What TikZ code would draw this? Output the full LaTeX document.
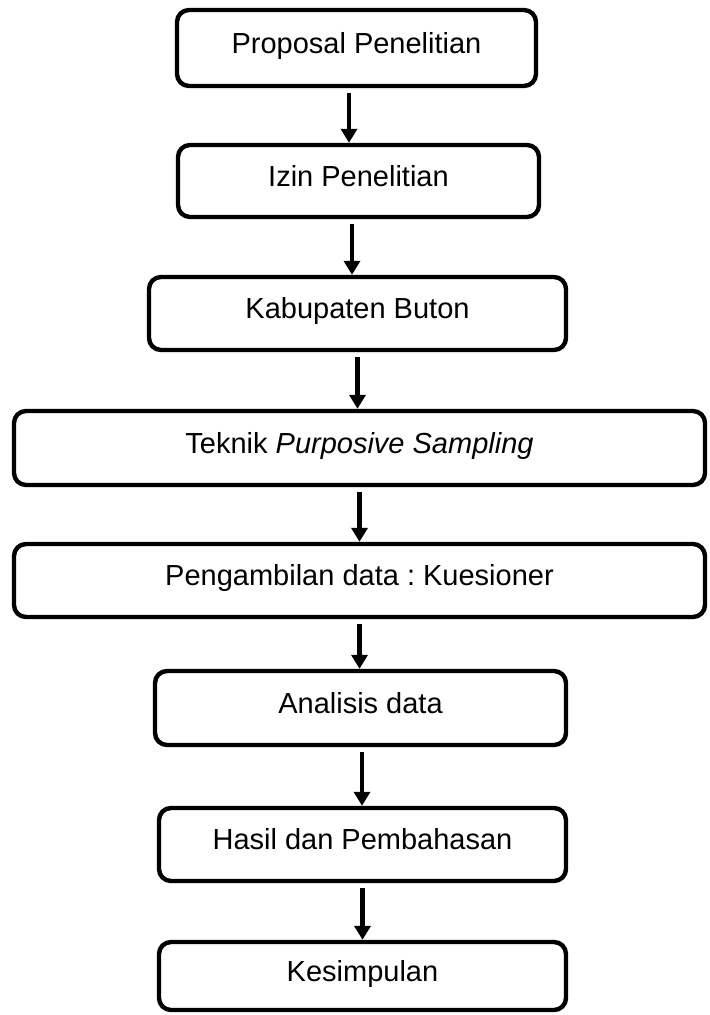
\documentclass[tikz,border=0pt]{standalone}
\usepackage{fontspec}
\setmainfont{Liberation Sans}
\usetikzlibrary{arrows.meta}
\frenchspacing

\begin{document}
\begin{tikzpicture}[x=0.5pt, y=-0.5pt, >={Triangle[width=8pt,length=7pt]},
  kotak/.style={draw, line width=2.2pt, rounded corners=6pt, inner sep=0pt,
    text height=10.4pt, text depth=5pt, font=\fontsize{14.5}{17}\selectfont},
  panah/.style={->, line width=2.2pt, shorten <=2.5pt}]
\useasboundingbox (0,0) rectangle (709,1015);
\node [kotak, minimum width=179.5pt, minimum height=38pt] (proposal) at (356.5,48) {Proposal Penelitian};
\node [kotak, minimum width=180.5pt, minimum height=36pt] (izin) at (358.5,181) {Izin Penelitian};
\node [kotak, minimum width=208.5pt, minimum height=36.5pt] (buton) at (357.5,313.5) {Kabupaten Buton};
\node [kotak, minimum width=345.5pt, minimum height=37pt] (teknik) at (359.5,448) {Teknik \textit{Purposive Sampling}};
\node [kotak, minimum width=345.5pt, minimum height=36.5pt] (kuesioner) at (359.5,580.5) {Pengambilan data : Kuesioner};
\node [kotak, minimum width=205.5pt, minimum height=37pt] (analisis) at (360.5,708) {Analisis data};
\node [kotak, minimum width=203.5pt, minimum height=36.5pt] (hasil) at (362.5,844.5) {Hasil dan Pembahasan};
\node [kotak, minimum width=203.5pt, minimum height=34pt] (simpulan) at (362.5,976) {Kesimpulan};
% panah antar tahap
\draw [panah] ([xshift=-3.75pt]proposal.south) -- ([xshift=-3.75pt]proposal.south |- izin.north);
\draw [panah] ([xshift=-3.25pt]izin.south) -- ([xshift=-3.25pt]izin.south |- buton.north);
\draw [panah] (buton.south) -- (buton.south |- teknik.north);
\draw [panah] (teknik.south) -- (teknik.south |- kuesioner.north);
\draw [panah] (kuesioner.south) -- (kuesioner.south |- analisis.north);
\draw [panah] ([xshift=0.75pt]analisis.south) -- ([xshift=0.75pt]analisis.south |- hasil.north);
\draw [panah] (hasil.south) -- (hasil.south |- simpulan.north);
\end{tikzpicture}
\end{document}
